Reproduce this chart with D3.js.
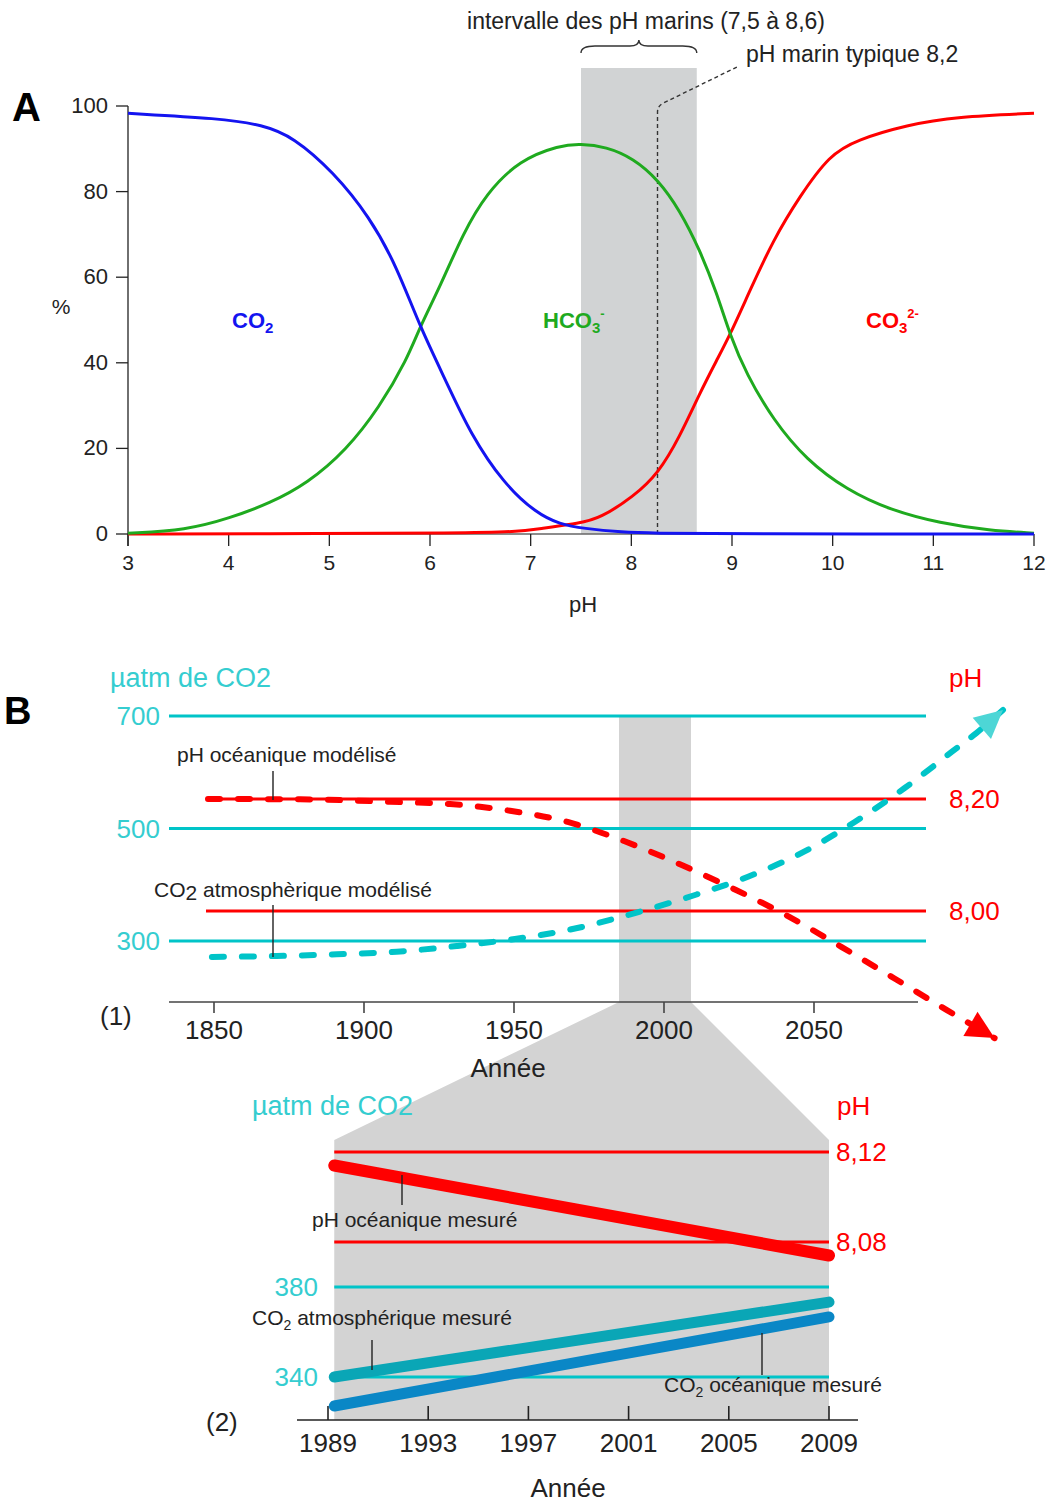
<!DOCTYPE html>
<html>
<head>
<meta charset="utf-8">
<script src="https://cdn.jsdelivr.net/npm/d3@7"></script>
<style>
body{margin:0;background:#fff}
text{font-family:"Liberation Sans",Arial,sans-serif}
</style>
</head>
<body>
<div id="chart"></div>
<script>
// ---- panel A : carbonate species (%) vs pH
var co2Curve  = [[3,98.3],[3.91,97.1],[4.34,95.6],[4.64,92.8],[5.04,84.6],[5.4,74.1],[5.67,62.5],[5.9,48.4],[6.17,35.2],[6.4,23.5],[6.73,11.8],[7.06,4.8],[7.29,2.3],[7.52,1.3],[7.92,0.4],[8.2,0.2],[9,0],[12,0]]
var hco3Curve = [[3,0.2],[3.58,0.9],[4.01,3.7],[4.41,7.2],[4.78,11.8],[5.17,19.6],[5.5,29.7],[5.77,40.7],[5.9,48.4],[6.1,57.8],[6.33,70.3],[6.56,79.6],[6.89,87.4],[7.29,90.8],[7.49,91.2],[7.75,90.5],[8.02,87.8],[8.27,82.7],[8.48,75.7],[8.68,66.4],[8.85,56.2],[8.98,46.5],[9.14,37.5],[9.41,26.6],[9.74,17.3],[10.14,10.3],[10.57,5.6],[11.07,2.5],[11.56,0.8],[12,0.2]]
var co3Curve  = [[3,0],[5,0.1],[6.23,0.2],[6.89,0.5],[7.09,1.3],[7.49,2.5],[7.69,3.7],[8.02,8.7],[8.27,14.2],[8.48,22.7],[8.68,32.9],[8.85,40.7],[8.98,46.5],[9.18,57],[9.41,68.7],[9.67,78.8],[9.97,88.6],[10.24,92.1],[10.74,95.6],[11.23,97.5],[12,98.3]]
var pHTicks = [3,4,5,6,7,8,9,10,11,12]
var pctTicks = [0,20,40,60,80,100]
var marineRange = [7.5,8.65]
var typicalPH = 8.26

// ---- panel B(1) : modelled
var yearTicks1 = [1850,1900,1950,2000,2050]
var co2Ticks1 = [300,500,700]
var phTicks1 = [8.00,8.20]
var phModel = [[1848,8.200],[1878.7,8.1995],[1908.7,8.195],[1928.7,8.191],[1938.7,8.186],[1948.7,8.179],[1967.9,8.159],[1987.1,8.124],[2005.9,8.082],[2024,8.0375],[2041.6,7.990],[2059.1,7.936],[2076.7,7.880],[2094.3,7.823],[2110.2,7.773]]
var co2Model = [[1849.3,271.6],[1870.9,273.3],[1890.9,276.4],[1910.9,281],[1930.9,291.1],[1950.3,303.6],[1970.7,322.6],[1990,349.2],[2009.3,380],[2028,414.3],[2046.7,458.8],[2063.7,512.1],[2080.1,571.5],[2096,636.5],[2104,669.2],[2113,710.7]]
var zoomYears = [1985,2009]

// ---- panel B(2) : measured
var yearTicks2 = [1989,1993,1997,2001,2005,2009]
var co2Ticks2 = [340,380]
var phTicks2 = [8.08,8.12]
var phMeasured = [[1989.25,8.114],[2009,8.074]]
var co2AtmMeasured = [[1989.25,340],[2009,373.3]]
var co2OceanMeasured = [[1989.25,327.1],[2009,366.7]]

var W=1051,H=1504
var RED="#ff0000",CYAN="#00c4c8",CYANTXT="#35cdd0",BLUE="#1414f0",GREEN="#1faa1f"
var svg=d3.select("#chart").append("svg").attr("width",W).attr("height",H)

function fmt(v,d){return v.toFixed(d).replace(".",",")}

// ================= PANEL A =================
var xA=d3.scaleLinear().domain([3,12]).range([128,1034])
var yA=d3.scaleLinear().domain([0,100]).range([534,106])
var gA=svg.append("g")

gA.append("rect").attr("x",xA(marineRange[0])).attr("y",68)
	.attr("width",xA(marineRange[1])-xA(marineRange[0])).attr("height",yA(0)-68)
	.attr("fill","#d1d3d4")

// x axis
gA.append("line").attr("x1",xA(3)).attr("x2",xA(12)).attr("y1",yA(0)).attr("y2",yA(0)).attr("stroke","#666").attr("stroke-width",1.5)
gA.selectAll(".xt").data(pHTicks).enter().append("line")
	.attr("x1",function(d){return xA(d)}).attr("x2",function(d){return xA(d)})
	.attr("y1",yA(0)).attr("y2",yA(0)+12).attr("stroke","#222").attr("stroke-width",1.3)
gA.selectAll(".xl").data(pHTicks).enter().append("text")
	.attr("x",function(d){return xA(d)}).attr("y",570).attr("text-anchor","middle")
	.attr("font-size","21px").attr("fill","#222").text(function(d){return d})
gA.append("text").attr("x",583).attr("y",612).attr("text-anchor","middle").attr("font-size","22px").attr("fill","#222").text("pH")

// y axis
gA.append("line").attr("x1",128).attr("x2",128).attr("y1",yA(100)).attr("y2",yA(0)+12).attr("stroke","#222").attr("stroke-width",1.3)
gA.selectAll(".yt").data(pctTicks).enter().append("line")
	.attr("x1",116).attr("x2",128).attr("y1",function(d){return yA(d)}).attr("y2",function(d){return yA(d)})
	.attr("stroke","#222").attr("stroke-width",1.3)
gA.selectAll(".yl").data(pctTicks).enter().append("text")
	.attr("x",108).attr("y",function(d){return yA(d)+7}).attr("text-anchor","end")
	.attr("font-size","22px").attr("fill","#222").text(function(d){return d})
gA.append("text").attr("x",61).attr("y",314).attr("text-anchor","middle").attr("font-size","21px").attr("fill","#222").text("%")
gA.append("text").attr("x",12).attr("y",121).attr("font-size","40px").attr("font-weight","bold").text("A")

// typical pH dashed pointer
var tx=xA(typicalPH)
gA.append("path").attr("d","M"+tx+","+yA(0)+" L"+tx+",112 Q"+tx+",106 "+(tx+6)+",103 L737,67")
	.attr("fill","none").attr("stroke","#333").attr("stroke-width",1.4).attr("stroke-dasharray","4,3")
gA.append("text").attr("x",746).attr("y",62).attr("font-size","23px").attr("fill","#222").text("pH marin typique 8,2")

// brace
var bx0=xA(marineRange[0]),bx1=xA(marineRange[1]),bm=(bx0+bx1)/2
gA.append("path").attr("d","M"+bx0+",53 Q"+bx0+",46 "+(bx0+14)+",46 L"+(bm-9)+",46 Q"+bm+",46 "+bm+",40 Q"+bm+",46 "+(bm+9)+",46 L"+(bx1-14)+",46 Q"+bx1+",46 "+bx1+",53")
	.attr("fill","none").attr("stroke","#333").attr("stroke-width",1.4)
gA.append("text").attr("x",646).attr("y",29).attr("text-anchor","middle").attr("font-size","23px").attr("fill","#222").text("intervalle des pH marins (7,5 à 8,6)")

// curves
var lineA=d3.line().x(function(d){return xA(d[0])}).y(function(d){return yA(d[1])}).curve(d3.curveBasis)
gA.append("path").attr("d",lineA(co3Curve)).attr("fill","none").attr("stroke",RED).attr("stroke-width",3)
gA.append("path").attr("d",lineA(hco3Curve)).attr("fill","none").attr("stroke",GREEN).attr("stroke-width",3)
gA.append("path").attr("d",lineA(co2Curve)).attr("fill","none").attr("stroke",BLUE).attr("stroke-width",3)

function species(x,y,col,base,sub,sup){
	var t=gA.append("text").attr("x",x).attr("y",y).attr("font-size","22px").attr("font-weight","bold").attr("fill",col)
	t.append("tspan").text(base)
	t.append("tspan").attr("font-size","15px").attr("dy",5).text(sub)
	if(sup) t.append("tspan").attr("font-size","13px").attr("dy",-15).text(sup)
}
species(232,328,BLUE,"CO","2")
species(543,328,GREEN,"HCO","3","-")
species(866,328,RED,"CO","3","2-")

// ================= PANEL B (1) =================
var x1=d3.scaleLinear().domain([1850,2050]).range([214,814])
var yC1=d3.scaleLinear().domain([300,700]).range([941,716])
var yP1=d3.scaleLinear().domain([8.0,8.2]).range([911,799])
var x2=d3.scaleLinear().domain([1989,2009]).range([328,829])
var yC2=d3.scaleLinear().domain([340,380]).range([1377,1287])
var yP2=d3.scaleLinear().domain([8.08,8.12]).range([1242,1152])
var gB=svg.append("g")

// gray zoom shape
var zl=x1(zoomYears[0]),zr=x1(zoomYears[1]),bL=x2(phMeasured[0][0]),bR=x2(2009)
gB.append("path").attr("d","M"+zl+","+yC1(700)+" L"+zr+","+yC1(700)+" L"+zr+",1002 L"+bR+",1140 L"+bR+",1420 L"+bL+",1420 L"+bL+",1140 L"+zl+",1002 Z")
	.attr("fill","#d3d3d3")

gB.append("text").attr("x",4).attr("y",724).attr("font-size","38px").attr("font-weight","bold").text("B")
gB.append("text").attr("x",110).attr("y",687).attr("font-size","27px").attr("fill",CYANTXT).text("µatm de CO2")
gB.append("text").attr("x",949).attr("y",687).attr("font-size","26px").attr("fill",RED).text("pH")

gB.selectAll(".c1").data(co2Ticks1).enter().append("line")
	.attr("x1",169).attr("x2",926).attr("y1",function(d){return yC1(d)}).attr("y2",function(d){return yC1(d)})
	.attr("stroke",CYAN).attr("stroke-width",3)
gB.selectAll(".c1l").data(co2Ticks1).enter().append("text")
	.attr("x",160).attr("y",function(d){return yC1(d)+9}).attr("text-anchor","end")
	.attr("font-size","26px").attr("fill",CYANTXT).text(function(d){return d})
gB.selectAll(".p1").data(phTicks1).enter().append("line")
	.attr("x1",206).attr("x2",926).attr("y1",function(d){return yP1(d)}).attr("y2",function(d){return yP1(d)})
	.attr("stroke",RED).attr("stroke-width",3)
gB.selectAll(".p1l").data(phTicks1).enter().append("text")
	.attr("x",949).attr("y",function(d){return yP1(d)+9})
	.attr("font-size","26px").attr("fill",RED).text(function(d){return fmt(d,2)})

// axis (1)
gB.append("line").attr("x1",169).attr("x2",918).attr("y1",1002).attr("y2",1002).attr("stroke","#444").attr("stroke-width",1.6)
gB.selectAll(".t1").data(yearTicks1).enter().append("line")
	.attr("x1",function(d){return x1(d)}).attr("x2",function(d){return x1(d)}).attr("y1",1002).attr("y2",1013)
	.attr("stroke","#444").attr("stroke-width",1.6)
gB.selectAll(".t1l").data(yearTicks1).enter().append("text")
	.attr("x",function(d){return x1(d)}).attr("y",1039).attr("text-anchor","middle")
	.attr("font-size","26px").attr("fill","#222").text(function(d){return d})
gB.append("text").attr("x",508).attr("y",1077).attr("text-anchor","middle").attr("font-size","26px").attr("fill","#222").text("Année")
gB.append("text").attr("x",100).attr("y",1025).attr("font-size","26px").attr("fill","#222").text("(1)")

// dashed modelled curves with arrow heads
function arrowHead(p,q,col){
	var dx=q[0]-p[0],dy=q[1]-p[1],len=Math.sqrt(dx*dx+dy*dy),ux=dx/len,uy=dy/len
	var L=28,Wd=14,bx=q[0]-L*ux,by=q[1]-L*uy
	gB.append("path").attr("d","M"+q[0]+","+q[1]+" L"+(bx-Wd*uy)+","+(by+Wd*ux)+" L"+(bx+Wd*uy)+","+(by-Wd*ux)+" Z").attr("fill",col)
}
var lineP1=d3.line().x(function(d){return x1(d[0])}).y(function(d){return yP1(d[1])}).curve(d3.curveMonotoneX)
var lineC1=d3.line().x(function(d){return x1(d[0])}).y(function(d){return yC1(d[1])}).curve(d3.curveMonotoneX)
gB.append("path").attr("d",lineP1(phModel)).attr("fill","none").attr("stroke",RED).attr("stroke-width",6)
	.attr("stroke-dasharray","12,18").attr("stroke-linecap","round")
gB.append("path").attr("d",lineC1(co2Model)).attr("fill","none").attr("stroke",CYAN).attr("stroke-width",6)
	.attr("stroke-dasharray","12,18").attr("stroke-linecap","round")
var pn=phModel.length,cn=co2Model.length
arrowHead([x1(phModel[pn-2][0]),yP1(phModel[pn-2][1])],[x1(phModel[pn-1][0]),yP1(phModel[pn-1][1])],RED)
arrowHead([x1(co2Model[cn-2][0]),yC1(co2Model[cn-2][1])],[x1(co2Model[cn-1][0]),yC1(co2Model[cn-1][1])],"#4dd6d6")

// annotations (1)
function leader(x,y0,y1){gB.append("line").attr("x1",x).attr("x2",x).attr("y1",y0).attr("y2",y1).attr("stroke","#222").attr("stroke-width",1.4)}
gB.append("text").attr("x",177).attr("y",762).attr("font-size","21px").attr("fill","#222").text("pH océanique modélisé")
leader(273,771,800)
var t1=gB.append("text").attr("x",154).attr("y",897).attr("font-size","21px").attr("fill","#222")
t1.append("tspan").text("CO")
t1.append("tspan").attr("dy",3).text("2")
t1.append("tspan").attr("dy",-3).text(" atmosphèrique modélisé")
leader(273,905,957)

// ================= PANEL B (2) =================
gB.append("text").attr("x",252).attr("y",1115).attr("font-size","27px").attr("fill",CYANTXT).text("µatm de CO2")
gB.append("text").attr("x",837).attr("y",1115).attr("font-size","26px").attr("fill",RED).text("pH")

gB.selectAll(".p2").data(phTicks2).enter().append("line")
	.attr("x1",bL).attr("x2",bR).attr("y1",function(d){return yP2(d)}).attr("y2",function(d){return yP2(d)})
	.attr("stroke",RED).attr("stroke-width",3)
gB.selectAll(".p2l").data(phTicks2).enter().append("text")
	.attr("x",836).attr("y",function(d){return yP2(d)+9})
	.attr("font-size","26px").attr("fill",RED).text(function(d){return fmt(d,2)})
gB.selectAll(".c2").data(co2Ticks2).enter().append("line")
	.attr("x1",bL).attr("x2",bR).attr("y1",function(d){return yC2(d)}).attr("y2",function(d){return yC2(d)})
	.attr("stroke",CYAN).attr("stroke-width",3)
gB.selectAll(".c2l").data(co2Ticks2).enter().append("text")
	.attr("x",318).attr("y",function(d){return yC2(d)+9}).attr("text-anchor","end")
	.attr("font-size","26px").attr("fill",CYANTXT).text(function(d){return d})

// axis (2)
gB.append("line").attr("x1",297).attr("x2",858).attr("y1",1420).attr("y2",1420).attr("stroke","#222").attr("stroke-width",1.6)
gB.selectAll(".t2").data(yearTicks2).enter().append("line")
	.attr("x1",function(d){return x2(d)}).attr("x2",function(d){return x2(d)}).attr("y1",1406).attr("y2",1420)
	.attr("stroke","#222").attr("stroke-width",1.6)
gB.selectAll(".t2l").data(yearTicks2).enter().append("text")
	.attr("x",function(d){return x2(d)}).attr("y",1452).attr("text-anchor","middle")
	.attr("font-size","26px").attr("fill","#222").text(function(d){return d})
gB.append("text").attr("x",568).attr("y",1497).attr("text-anchor","middle").attr("font-size","26px").attr("fill","#222").text("Année")
gB.append("text").attr("x",206).attr("y",1431).attr("font-size","26px").attr("fill","#222").text("(2)")

// measured thick lines
var lineP2=d3.line().x(function(d){return x2(d[0])}).y(function(d){return yP2(d[1])})
var lineC2=d3.line().x(function(d){return x2(d[0])}).y(function(d){return yC2(d[1])})
gB.append("path").attr("d",lineC2(co2OceanMeasured)).attr("fill","none").attr("stroke","#0a87c6").attr("stroke-width",11).attr("stroke-linecap","round")
gB.append("path").attr("d",lineC2(co2AtmMeasured)).attr("fill","none").attr("stroke","#0aa6b6").attr("stroke-width",11).attr("stroke-linecap","round")
gB.append("path").attr("d",lineP2(phMeasured)).attr("fill","none").attr("stroke",RED).attr("stroke-width",12).attr("stroke-linecap","round")

// annotations (2)
gB.append("text").attr("x",312).attr("y",1227).attr("font-size","21px").attr("fill","#222").text("pH océanique mesuré")
leader(402,1175,1205)
function subLabel(x,y,rest){
	var t=gB.append("text").attr("x",x).attr("y",y).attr("font-size","21px").attr("fill","#222")
	t.append("tspan").text("CO")
	t.append("tspan").attr("font-size","14px").attr("dy",5).text("2")
	t.append("tspan").attr("dy",-5).text(rest)
}
subLabel(252,1325," atmosphérique mesuré")
leader(372,1340,1370)
subLabel(664,1392," océanique mesuré")
leader(762,1333,1375)
</script>
</body>
</html>
